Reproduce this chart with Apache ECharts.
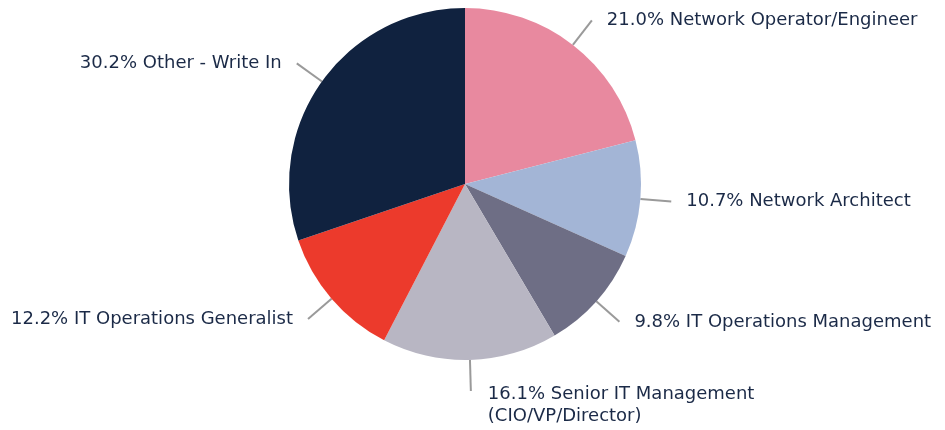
<!DOCTYPE html>
<html>
<head>
<meta charset="utf-8">
<script src="https://cdn.jsdelivr.net/npm/echarts@6/dist/echarts.min.js"></script>
<style>
  html, body { margin: 0; padding: 0; background: #fff; }
  #chart { width: 945px; height: 430px; }
</style>
</head>
<body>
<div id="chart"></div>
<script>
// job roles, clockwise from 12 o'clock
const roles = [
  "Network Operator/Engineer",
  "Network Architect",
  "IT Operations Management",
  "Senior IT Management\n(CIO/VP/Director)",
  "IT Operations Generalist",
  "Other - Write In"
];
const shares = [21.0, 10.7, 9.8, 16.1, 12.2, 30.2];
const colors = ["#E8899F", "#A3B5D6", "#6E6E85", "#B8B6C3", "#EC3A2C", "#10223F"];

let chart = echarts.init(document.getElementById("chart"));
let option = {
  animation: false,
  color: colors,
  series: [
    {
      type: "pie",
      center: [465, 184],
      radius: [0, 176],
      startAngle: 90,
      clockwise: true,
      data: roles.map((r, i) => ({ name: r, value: shares[i] })),
      label: {
        show: true,
        position: "outside",
        formatter: (p) => p.value.toFixed(1) + "% " + p.name,
        color: "#1B2A47",
        fontSize: 18,
        fontFamily: "DejaVu Sans",
        lineHeight: 22,
        distanceToLabelLine: 15
      },
      labelLine: {
        show: true,
        length: 31,
        length2: 0,
        lineStyle: { color: "#9A9A9A", width: 2 }
      },
      labelLayout: function (params) {
        // the two-line label sits below the end of its line
        if (params.dataIndex === 3) {
          return { dx: 2, dy: 14 };
        }
        return {};
      },
      itemStyle: { borderWidth: 0 }
    }
  ]
};
option && chart.setOption(option);
</script>
</body>
</html>
